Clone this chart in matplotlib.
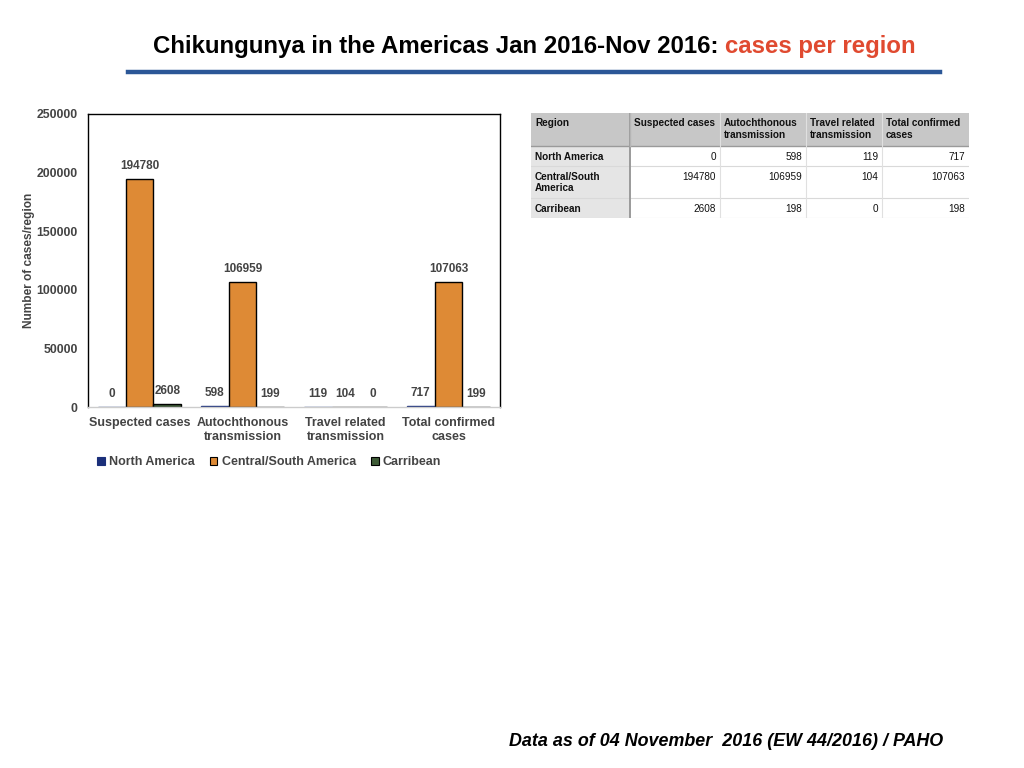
import matplotlib
matplotlib.use("Agg")
import matplotlib.pyplot as plt
import numpy as np
from matplotlib.patches import Patch, Rectangle
from matplotlib.lines import Line2D

# ---- data ----
categories = ["Suspected cases", "Autochthonous\ntransmission",
              "Travel related\ntransmission", "Total confirmed\ncases"]
series_names = ["North America", "Central/South America", "Carribean"]
north_america = [0, 598, 119, 717]
central_south = [194780, 106959, 104, 107063]
carribean = [2608, 199, 0, 199]
yticks = [0, 50000, 100000, 150000, 200000, 250000]

table_header = ["Region", "Suspected cases", "Autochthonous\ntransmission",
                "Travel related\ntransmission", "Total confirmed\ncases"]
table_regions = ["North America", "Central/South\nAmerica", "Carribean"]
table_suspected = [0, 194780, 2608]
table_autoch = [598, 106959, 198]
table_travel = [119, 104, 0]
table_total = [717, 107063, 198]

colors = ["#1B2F7A", "#DE8A35", "#3E5B36"]
edges = ["#1B2F7A", "#000000", "#000000"]
gray = "#444444"
plt.rcParams['font.family'] = ['Liberation Sans', 'DejaVu Sans']

W, H = 1024, 768
fig = plt.figure(figsize=(W / 100, H / 100), dpi=100)

def fx(px): return px / W
def fy(py): return 1 - py / H

# ---- title ----
renderer = fig.canvas.get_renderer()
tfam = ['Liberation Sans Narrow', 'Liberation Sans', 'DejaVu Sans']
t1 = fig.text(fx(153), fy(46), "Chikungunya in the Americas Jan 2016-Nov 2016: ",
              fontsize=17.3, fontweight='bold', family=tfam, color='black',
              ha='left', va='center')
bb = t1.get_window_extent(renderer)
fig.text(bb.x1 / W, fy(46), "cases per region", fontsize=17.3, fontweight='bold',
         family=tfam, color='#E04A30', ha='left', va='center')
fig.add_artist(Line2D([fx(128), fx(940)], [fy(72), fy(72)], color='#2B5797',
                      linewidth=3.2, transform=fig.transFigure))

# ---- bar chart ----
ax = fig.add_axes([fx(88), fy(407), fx(500) - fx(88), fy(114) - fy(407)])
x = np.arange(len(categories))
bw = 0.27
all_series = [north_america, central_south, carribean]
for i, (vals, name) in enumerate(zip(all_series, series_names)):
    bars = ax.bar(x + (i - 1) * bw, vals, bw, color=colors[i], edgecolor=edges[i],
                  linewidth=1.0, label=name)
    for b, v in zip(bars, vals):
        ax.annotate(str(v), (b.get_x() + b.get_width() / 2, b.get_height()),
                    xytext=(0, 5), textcoords='offset points', ha='center',
                    va='bottom', fontsize=8.5, fontweight='bold', color=gray)
ax.set_xlim(-0.5, 3.5)
ax.set_ylim(0, 250000)
ax.set_yticks(yticks)
ax.set_yticklabels([str(t) for t in yticks], fontsize=8.8, fontweight='bold', color=gray)
ax.set_xticks(x)
ax.set_xticklabels(categories, fontsize=9, fontweight='bold', color=gray)
ax.tick_params(axis='y', length=0, pad=7.5)
ax.tick_params(axis='x', length=0, pad=7.5)
ax.set_ylabel("Number of cases/region", fontsize=8.6, fontweight='bold', color=gray,
              labelpad=1)
for s in ['left', 'top', 'right']:
    ax.spines[s].set_color('black')
    ax.spines[s].set_linewidth(1.0)
ax.spines['bottom'].set_color('#CCCCCC')
ax.spines['bottom'].set_linewidth(1.0)

handles = [Patch(facecolor=colors[i], edgecolor=edges[i], linewidth=0.8)
           for i in range(3)]
leg = fig.legend(handles, series_names, loc='center left',
                 bbox_to_anchor=(fx(86), fy(462)), ncol=3, frameon=False,
                 handlelength=0.6, handleheight=0.6, handletextpad=0.35,
                 columnspacing=1.2, prop={'weight': 'bold', 'size': 9})
for t in leg.get_texts():
    t.set_color(gray)

# ---- table ----
tx0, tx1, ty0, ty1 = 531, 969, 113, 218
tax = fig.add_axes([fx(tx0), fy(ty1), fx(tx1) - fx(tx0), fy(ty0) - fy(ty1)])
tax.set_xlim(tx0, tx1)
tax.set_ylim(ty1, ty0)
tax.axis('off')
colx = [531, 630, 720, 806, 882, 969]
rowy = [113, 146, 166, 198, 218]
# backgrounds
tax.add_patch(Rectangle((colx[0], rowy[0]), colx[-1] - colx[0], rowy[1] - rowy[0],
                        facecolor='#C7C7C7', edgecolor='none'))
tax.add_patch(Rectangle((colx[0], rowy[1]), colx[1] - colx[0], rowy[-1] - rowy[1],
                        facecolor='#E5E5E5', edgecolor='none'))
for yy in rowy[2:]:
    tax.plot([colx[0], colx[-1]], [yy, yy], color='#D9D9D9', lw=0.8)
tax.plot([colx[0], colx[-1]], [rowy[1], rowy[1]], color='#9A9A9A', lw=1.0)
for xx in colx[2:-1]:
    tax.plot([xx, xx], [rowy[0], rowy[-1]], color='#E0E0E0', lw=0.8)
tax.plot([colx[1], colx[1]], [rowy[0], rowy[-1]], color='#9A9A9A', lw=1.4)
tax.plot([colx[1], colx[1]], [rowy[0], rowy[1]], color='#B5B5B5', lw=1.0)

tfont = dict(fontsize=7.2, color='#111111', va='top')
for j, h in enumerate(table_header):
    tax.text(colx[j] + 4, rowy[0] + 5.5, h, fontweight='bold', ha='left',
             linespacing=1.2, **tfont)
cols = [table_suspected, table_autoch, table_travel, table_total]
for i, r in enumerate(table_regions):
    tax.text(colx[0] + 4, rowy[i + 1] + 5.5, r, fontweight='bold', ha='left',
             linespacing=1.2, **tfont)
    for j, c in enumerate(cols):
        tax.text(colx[j + 2] - 4, rowy[i + 1] + 5.5, str(c[i]), ha='right', **tfont)

# ---- footer ----
fig.text(fx(943), fy(741), "Data as of 04 November  2016 (EW 44/2016) / PAHO",
         fontsize=12.9, fontweight='bold', style='italic', color='black',
         ha='right', va='center')

fig.savefig("out.png", dpi=100)
